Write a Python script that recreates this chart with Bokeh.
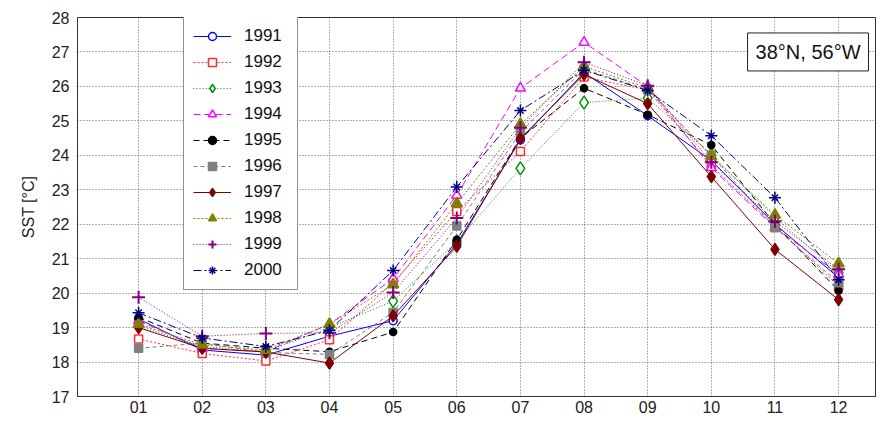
from bokeh.plotting import figure
from bokeh.models import FixedTicker, Legend, LegendItem, Label, Range1d
from bokeh.embed import file_html
from bokeh.resources import INLINE

months = [1, 2, 3, 4, 5, 6, 7, 8, 9, 10, 11, 12]
month_labels = ["01", "02", "03", "04", "05", "06", "07", "08", "09", "10", "11", "12"]
y_ticks = [17, 18, 19, 20, 21, 22, 23, 24, 25, 26, 27, 28]

years = ["1991", "1992", "1993", "1994", "1995", "1996", "1997", "1998", "1999", "2000"]
sst_1991 = [19.25, 18.35, 18.20, 18.75, 19.20, 21.43, 24.45, 26.40, 25.15, 23.85, 22.00, 20.45]
sst_1992 = [18.67, 18.25, 18.03, 18.65, 20.30, 22.37, 24.11, 26.27, 25.90, 23.70, 21.95, 20.20]
sst_1993 = [19.05, 18.45, 18.30, 19.00, 19.77, 21.50, 23.62, 25.53, 25.66, 24.02, 22.20, 20.60]
sst_1994 = [19.20, 18.40, 18.30, 19.10, 20.42, 22.84, 25.95, 27.28, 26.00, 23.64, 21.90, 20.55]
sst_1995 = [19.30, 18.55, 18.40, 18.30, 18.87, 21.55, 24.50, 25.95, 25.18, 24.30, 22.00, 20.07]
sst_1996 = [18.40, 18.55, 18.28, 18.22, 19.44, 21.95, 24.67, 26.50, 25.90, 24.00, 21.90, 20.30]
sst_1997 = [19.00, 18.40, 18.29, 17.97, 19.34, 21.36, 24.49, 26.35, 25.50, 23.38, 21.27, 19.81]
sst_1998 = [19.10, 18.50, 18.35, 19.10, 20.25, 22.60, 24.90, 26.58, 25.95, 23.97, 22.27, 20.86]
sst_1999 = [19.88, 18.75, 18.83, 18.85, 20.02, 22.18, 24.80, 26.70, 26.02, 23.80, 22.09, 20.69]
sst_2000 = [19.43, 18.70, 18.45, 18.92, 20.66, 23.08, 25.30, 26.47, 25.88, 24.57, 22.77, 20.39]
series = [sst_1991, sst_1992, sst_1993, sst_1994, sst_1995, sst_1996, sst_1997, sst_1998, sst_1999, sst_2000]

colors = ["#0000ff", "#ff3030", "#009000", "#ff00ff", "#000000", "#808080", "#800000", "#808000", "#800080", "#000080"]
dashes = ["solid", "2 2", "1 2", "7 4", "6 4", "4 3", "solid", "2 2", "1 2", "8 3 2 3"]
markers = [("circle", 8, False), ("square", 8, False), ("diamond", 13, False), ("triangle", 10, False),
           ("circle", 7, True), ("square", 8, True), ("diamond", 12, True), ("triangle", 11, True),
           ("cross", 13, True), ("asterisk8", 12, True)]

p = figure(width=877, height=417, output_backend="svg", toolbar_location=None,
           x_range=Range1d(0.04, 12.58), y_range=Range1d(17, 28),
           min_border_left=77, min_border_right=2, min_border_top=17, min_border_bottom=21)
p.background_fill_color = "white"
p.border_fill_color = "white"
p.outline_line_color = "#333333"
p.outline_line_width = 1

p.xaxis.ticker = FixedTicker(ticks=months)
p.xaxis.major_label_overrides = {m: l for m, l in zip(months, month_labels)}
p.yaxis.ticker = FixedTicker(ticks=y_ticks)
for ax in (p.xaxis[0], p.yaxis[0]):
    ax.major_label_text_font = "Liberation Sans"
    ax.major_label_text_font_size = "16px"
    ax.major_label_text_color = "#222222"
    ax.major_tick_in = 0
    ax.major_tick_out = 0
    ax.minor_tick_line_color = None
    ax.axis_line_color = "#333333"
p.xaxis.major_label_standoff = 4
p.yaxis.major_label_standoff = 8
p.yaxis.axis_label = "SST [°C]"
p.yaxis.axis_label_text_font = "Liberation Sans"
p.yaxis.axis_label_text_font_size = "16px"
p.yaxis.axis_label_text_font_style = "normal"
p.yaxis.axis_label_text_color = "#222222"
p.yaxis.axis_label_standoff = 12

for g in (p.xgrid[0], p.ygrid[0]):
    g.grid_line_color = "#555555"
    g.grid_line_dash = "1 2"
    g.grid_line_alpha = 0.9
    g.grid_line_width = 1

items = []
for yr, vals, c, d, (mk, sz, filled) in zip(years, series, colors, dashes, markers):
    ln = p.line(months, vals, line_color=c, line_dash=d, line_width=1)
    rends = [ln]
    fill = c if filled else "white"
    if mk == "asterisk8":
        s1 = p.scatter(months, vals, marker="cross", size=sz, line_color=c, line_width=1.5)
        s2 = p.scatter(months, vals, marker="x", size=sz * 0.75, line_color=c, line_width=1.5)
        rends += [s1, s2]
    elif mk == "cross":
        s = p.scatter(months, vals, marker="cross", size=sz, line_color=c, line_width=2)
        rends.append(s)
    else:
        s = p.scatter(months, vals, marker=mk, size=sz, line_color=c, fill_color=fill, line_width=1.5)
        rends.append(s)
    items.append(LegendItem(label=yr, renderers=rends))

legend = Legend(items=items, location=(106, 106))
legend.label_text_font = "Liberation Sans"
legend.label_text_font_size = "17px"
legend.label_text_color = "#111111"
legend.glyph_width = 38
legend.glyph_height = 20
legend.label_height = 20
legend.label_width = 44
legend.spacing = 6
legend.padding = 9
legend.margin = 0
legend.label_standoff = 13
legend.border_line_color = "#222222"
legend.border_line_width = 1
legend.background_fill_color = "white"
legend.background_fill_alpha = 1
p.add_layout(legend, "center")

lab = Label(x=11.52, y=27.0, text="38°N, 56°W", text_align="center", text_baseline="middle",
            text_font="Liberation Sans", text_font_size="20px", text_color="#111111",
            border_line_color="#222222", background_fill_color="white", padding=8)
p.add_layout(lab)

open("out.html", "w").write(file_html(p, INLINE))
